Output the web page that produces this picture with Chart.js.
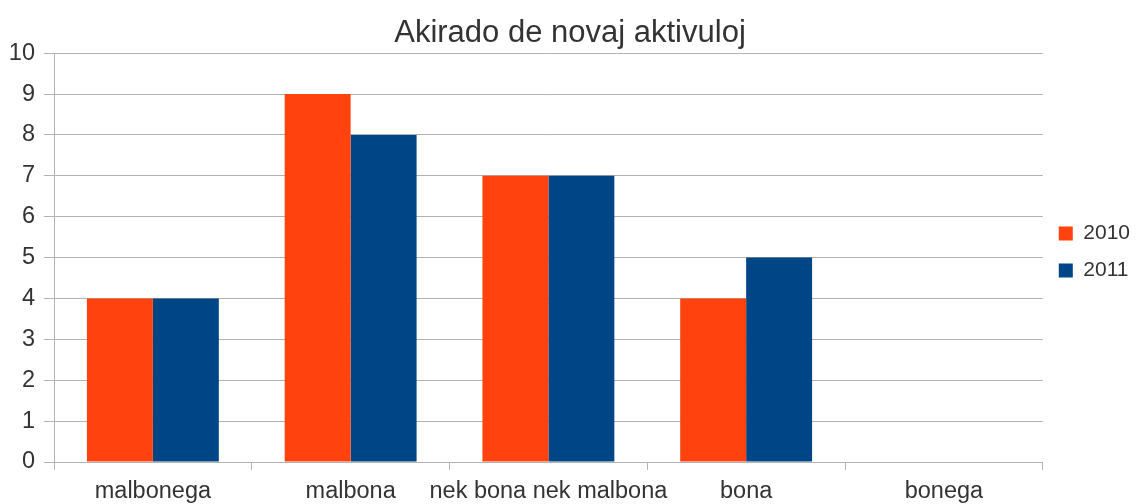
<!DOCTYPE html>
<html>
<head>
<meta charset="utf-8">
<script src="https://cdn.jsdelivr.net/npm/chart.js@4/dist/chart.umd.min.js"></script>
<style>
  html, body { margin: 0; padding: 0; background: #fff; }
  #wrap { width: 1138px; height: 504px; }
</style>
</head>
<body>
<div id="wrap"><canvas id="akiradoChart"></canvas></div>
<script>
var categories = ["malbonega", "malbona", "nek bona nek malbona", "bona", "bonega"];
var values2010 = [4, 9, 7, 4, 0];
var values2011 = [4, 8, 7, 5, 0];
var seriesLabels = ["2010", "2011"];

Chart.defaults.font.family = "'Liberation Sans', Arial, sans-serif";
Chart.defaults.color = "#333333";

const dataAkirado = {
  labels: categories,
  datasets: [
    {
      label: seriesLabels[0],
      data: values2010,
      backgroundColor: "#ff420e",
      borderWidth: 0,
    },
    {
      label: seriesLabels[1],
      data: values2011,
      backgroundColor: "#004586",
      borderWidth: 0,
    },
  ],
};

const configAkirado = {
  type: "bar",
  data: dataAkirado,
  options: {
    responsive: true,
    maintainAspectRatio: false,
    animation: false,
    // legend sits a bit further out than chart.js would put it
    layout: { padding: { left: 0, right: -2, top: 0, bottom: 0 } },
    datasets: {
      bar: { categoryPercentage: 0.667, barPercentage: 1.0 },
    },
    plugins: {
      title: {
        display: true,
        text: "Akirado de novaj aktivuloj",
        font: { size: 31, weight: "normal" },
        color: "#333333",
        padding: { top: 15, bottom: 1 },
      },
      legend: {
        display: true,
        position: "right",
        labels: {
          boxWidth: 14,
          boxHeight: 14,
          padding: 16,
          font: { size: 21 },
          color: "#333333",
        },
      },
      tooltip: { enabled: false },
    },
    scales: {
      x: {
        offset: true,
        grid: {
          offset: true,
          drawOnChartArea: false,
          tickLength: 8,
          color: "#b3b3b3",
        },
        border: { color: "#b3b3b3" },
        ticks: {
          autoSkip: false,
          font: { size: 23.5 },
          color: "#333333",
          padding: 7,
          maxRotation: 0,
        },
        afterFit: function (scale) { scale.height = 42; },
      },
      y: {
        min: 0,
        max: 10,
        grid: { color: "#b3b3b3", tickLength: 10 },
        border: { color: "#b3b3b3" },
        ticks: { stepSize: 1, font: { size: 23.5 }, color: "#333333", padding: 9 },
        afterFit: function (scale) { scale.width = 54; },
      },
    },
  },
};

var akiradoChart = new Chart(
  document.getElementById("akiradoChart"),
  configAkirado
);
</script>
</body>
</html>
